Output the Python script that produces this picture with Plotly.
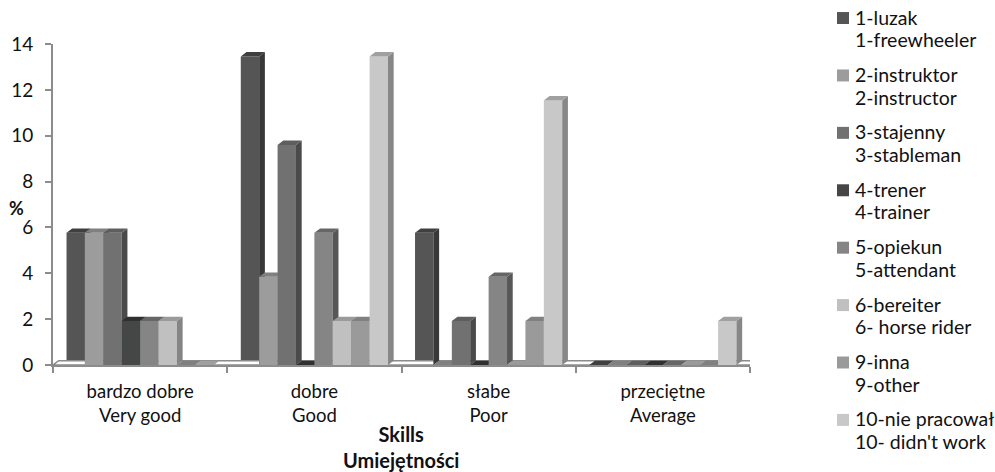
import plotly.graph_objects as go

categories = ["bardzo dobre<br>Very good", "dobre<br>Good", "słabe<br>Poor", "przeciętne<br>Average"]
series_names = [
    ("1-luzak", "1-freewheeler"),
    ("2-instruktor", "2-instructor"),
    ("3-stajenny", "3-stableman"),
    ("4-trener", "4-trainer"),
    ("5-opiekun", "5-attendant"),
    ("6-bereiter", "6- horse rider"),
    ("9-inna", "9-other"),
    ("10-nie pracował", "10- didn't work"),
]
luzak = [5.77, 13.46, 5.77, 0]
instruktor = [5.77, 3.85, 0, 0]
stajenny = [5.77, 9.6, 1.92, 0]
trener = [1.92, 0, 0, 0]
opiekun = [1.92, 5.77, 3.85, 0]
bereiter = [1.92, 1.92, 0, 0]
inna = [0, 1.92, 1.92, 0]
nie_pracowal = [0, 13.46, 11.54, 1.92]
series_values = [luzak, instruktor, stajenny, trener, opiekun, bereiter, inna, nie_pracowal]

front = ["#555555", "#9c9c9c", "#717171", "#454747", "#858585", "#c0c0c0", "#9a9a9a", "#c8c8c8"]
side = ["#383838", "#757575", "#4a4a4a", "#2e2e2e", "#575757", "#858585", "#747474", "#878787"]
top = ["#3f3f3f", "#808080", "#5e5e5e", "#303030", "#666666", "#9a9a9a", "#808080", "#a0a0a0"]

AXIS = "#8c8c8c"
FONT = "Lato"
L, R, T, B = 53.0, 750.0, 43.5, 365.0
cat_px = (R - L) / 4
y_px = (B - T) / 14
dx = 5.7 / cat_px
dy = 4.3 / y_px
bar_w = 18.4 / cat_px
n = len(series_values)
x_pos = list(range(len(categories)))

def px(x):
    return (x - L) / (R - L)

def py(y):
    return (B - y) / (B - T)

fig = go.Figure()

# floor of the 3D box
fig.add_trace(go.Scatter(
    x=[-0.5, -0.5 + dx, 3.5 + dx, 3.5, -0.5], y=[0, dy, dy, 0, 0],
    mode="lines", fill="toself", fillcolor="white",
    line=dict(color=AXIS, width=1.5), cliponaxis=False,
    hoverinfo="skip", showlegend=False))

layout_axes = {}
for k, vals in enumerate(series_values):
    off = -n * bar_w / 2 + k * bar_w
    ya = "y" if k == 0 else f"y{k + 1}"
    if k:
        layout_axes[f"yaxis{k + 1}"] = dict(overlaying="y", range=[0, 14], visible=False, anchor="x")
    sx, sy, tx, ty = [], [], [], []
    for i, v in zip(x_pos, vals):
        x0, x1 = i + off, i + off + bar_w
        sx += [x1, x1 + dx, x1 + dx, x1, x1, None]
        sy += [0, dy, v + dy, v, 0, None]
        tx += [x0, x0 + dx, x1 + dx, x1, x0, None]
        ty += [v, v + dy, v + dy, v, v, None]
    fig.add_trace(go.Scatter(x=sx, y=sy, yaxis=ya, mode="lines", fill="toself", fillcolor=side[k],
                             line=dict(width=0, color=side[k]), cliponaxis=False,
                             hoverinfo="skip", showlegend=False))
    fig.add_trace(go.Scatter(x=tx, y=ty, yaxis=ya, mode="lines", fill="toself", fillcolor=top[k],
                             line=dict(width=0, color=top[k]), cliponaxis=False,
                             hoverinfo="skip", showlegend=False))
    fig.add_trace(go.Bar(x=x_pos, y=vals, yaxis=ya, width=bar_w, offset=off,
                         marker=dict(color=front[k], line=dict(width=0)),
                         name=" ".join(series_names[k]), showlegend=False))

# legend drawn as real text beside swatches
shapes, annotations = [], []
W, H = 995, 472
for k, (pl, en) in enumerate(series_names):
    yc = 16.5 + k * 57.5
    shapes.append(dict(type="rect", xref="paper", yref="paper",
                       x0=px(837), x1=px(849), y0=py(yc + 1 + 6), y1=py(yc + 1 - 6),
                       fillcolor=front[k], line=dict(width=0)))
    for txt, yy in ((pl, yc), (en, yc + 22.7)):
        annotations.append(dict(text=txt, xref="paper", yref="paper", showarrow=False,
                                x=px(853), y=py(yy), xanchor="left", yanchor="middle",
                                font=dict(family=FONT, size=19.5, color="#111111")))
annotations.append(dict(text="<b>%</b>", xref="paper", yref="paper", showarrow=False,
                        x=px(16), y=py(208), xanchor="center", yanchor="middle",
                        font=dict(family=FONT, size=18, color="#111111")))
annotations.append(dict(text="<b>Skills<br>Umiejętności</b>", xref="paper", yref="paper",
                        showarrow=False, x=px(401), y=py(447), xanchor="center", yanchor="middle",
                        font=dict(family=FONT, size=20, color="#111111")))

fig.update_layout(
    width=W, height=H, autosize=False,
    margin=dict(l=L, r=W - R, t=T, b=H - B, pad=0, autoexpand=False),
    paper_bgcolor="white", plot_bgcolor="white",
    barmode="overlay", showlegend=False,
    font=dict(family=FONT, color="#111111"),
    xaxis=dict(
        range=[-0.5, 3.5], tickmode="array", tickvals=x_pos, ticktext=categories,
        ticks="", showgrid=False, zeroline=False, showline=True, automargin=False,
        linecolor=AXIS, linewidth=2, tickfont=dict(size=18.5, family=FONT),
        ticklabelstandoff=9,
        minor=dict(tickmode="array", tickvals=[-0.5, 0.5, 1.5, 2.5, 3.5], ticks="outside",
                   ticklen=6, tickwidth=2, tickcolor=AXIS, showgrid=False),
    ),
    yaxis=dict(
        range=[0, 14], tickvals=[0, 2, 4, 6, 8, 10, 12, 14], ticks="outside", ticklen=6,
        tickwidth=2, tickcolor=AXIS, showgrid=False, zeroline=False, showline=True, automargin=False,
        linecolor=AXIS, linewidth=2, tickfont=dict(size=19, family=FONT),
        ticklabelstandoff=8,
    ),
    shapes=shapes, annotations=annotations,
    **layout_axes,
)
fig.write_html(
    "out.html",
    config={"displayModeBar": False},
    post_script="document.body.style.margin='0';document.documentElement.style.overflow='hidden';",
)
